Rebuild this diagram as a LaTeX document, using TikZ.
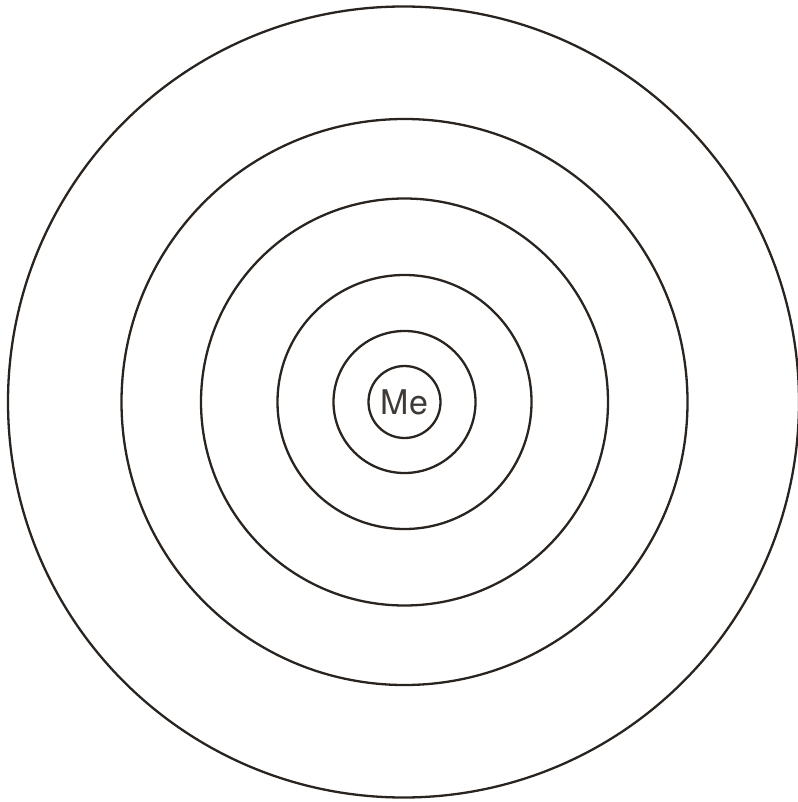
\documentclass[tikz,border=0pt]{standalone}
\usepackage{fontspec}
\setmainfont{TeX Gyre Heros}
\definecolor{ink}{HTML}{2A2420}
\begin{document}
\begin{tikzpicture}[x=1pt,y=-1pt,
  ring/.style={draw=ink,line width=2.3pt},
  menode/.style={circle,draw=ink,line width=2.3pt,minimum size=72pt,inner sep=0pt,text=ink!90,font=\fontsize{34}{34}\selectfont}]
\useasboundingbox (0,0) rectangle (797,802);
\coordinate (c) at (404.5,402);
\draw[ring] (403.5,402) circle[radius=395.5];
\draw[ring] (c) circle[radius=283];
\draw[ring] (c) circle[radius=203.5];
\draw[ring] (c) circle[radius=127];
\draw[ring] (c) circle[radius=71];
\node[menode] (me) at (c) {Me};
\end{tikzpicture}
\end{document}
